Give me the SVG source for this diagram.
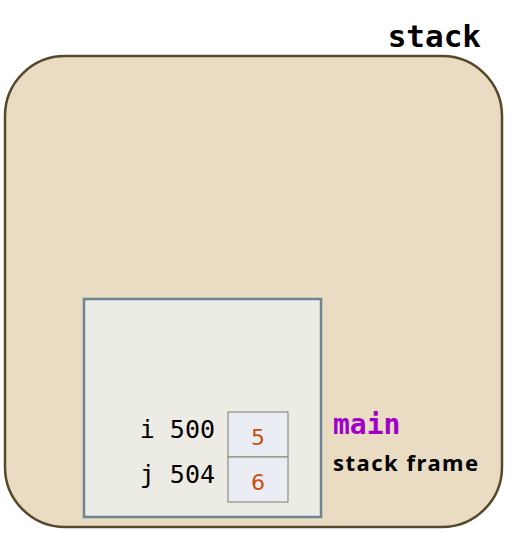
<svg xmlns="http://www.w3.org/2000/svg" width="509" height="534" viewBox="0 0 509 534">
<style>
.mono{font-family:"DejaVu Sans Mono","Liberation Mono",monospace}
.lbl{font-size:25px;fill:#000;text-anchor:end}
.val{font-size:22px;fill:#c8500a;text-anchor:middle;font-family:"DejaVu Sans","Liberation Sans",sans-serif}
.cell{fill:#eaeef4;stroke:#8a8f80;stroke-width:1.2}
</style>
<rect width="509" height="534" fill="#ffffff"/>
<g id="stack">
<rect x="5" y="56" width="497" height="471" rx="60" ry="60" fill="#e9dcc2" stroke="#57472b" stroke-width="2.5"/>
<text x="481" y="47" class="mono" font-size="31" font-weight="bold" text-anchor="end" fill="#000">stack</text>
</g>
<g id="frame">
<rect x="84" y="299" width="237" height="218" fill="#ecece4" stroke="#6f8596" stroke-width="2.5"/>
<text x="333" y="434" class="mono" font-size="28" font-weight="bold" fill="#a000c8">main</text>
<text x="333" y="471" font-family="'Noto Sans','DejaVu Sans',sans-serif" font-size="22" font-weight="bold" letter-spacing="1.5" fill="#000">stack frame</text>
</g>
<g id="var-i">
<text x="215" y="438" class="mono lbl">i 500</text>
<rect x="228" y="412" width="60" height="45" class="cell"/>
<text x="258" y="445" class="val">5</text>
</g>
<g id="var-j">
<text x="215" y="483" class="mono lbl">j 504</text>
<rect x="228" y="457" width="60" height="45" class="cell"/>
<text x="258" y="490" class="val">6</text>
</g>
<g id="connectors"></g>
</svg>
